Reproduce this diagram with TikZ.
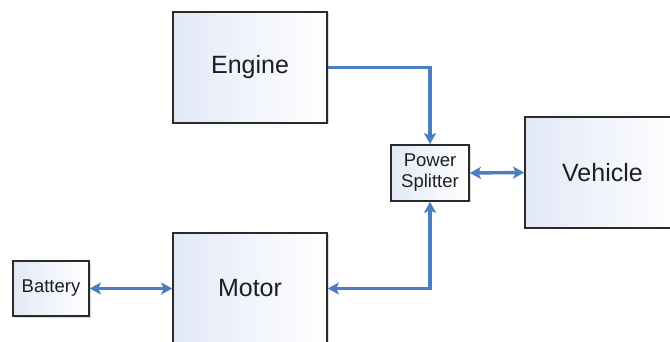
\documentclass[tikz,border=0pt]{standalone}
\usepackage{fontspec}
\setmainfont{Liberation Sans}
\usetikzlibrary{arrows.meta,shadows}
\definecolor{arrowblue}{HTML}{4A7EBF}
\definecolor{boxline}{HTML}{2A2A2A}
\definecolor{boxfillA}{HTML}{E2E9F6}
\definecolor{textgray}{HTML}{1E1E1E}
\tikzset{
  blockbox/.style={draw=boxline, line width=1.7pt, left color=boxfillA, right color=white,
    drop shadow={opacity=0.3, shadow xshift=1.5pt, shadow yshift=-1.5pt},
    inner sep=0pt, text=textgray, align=center},
  bigbox/.style={blockbox, minimum width=154pt, minimum height=111pt, font=\fontsize{25}{28}\selectfont},
  smallbox/.style={blockbox, font=\fontsize{18.5}{21}\selectfont},
  link/.style={draw=arrowblue, line width=3.4pt},
  tip/.style={-{Stealth[length=11pt,width=12pt,inset=2.5pt]}},
  twotip/.style={{Stealth[length=11pt,width=12pt,inset=2.5pt]}-{Stealth[length=11pt,width=12pt,inset=2.5pt]}},
}
\begin{document}
\begin{tikzpicture}[x=1pt,y=-1pt]
\useasboundingbox (0,0) rectangle (670,342);
\clip (0,0) rectangle (670,342);
\fill[white] (0,0) rectangle (670,342);
\node[bigbox] (engine) at (250,67.5) {Engine};
\node[bigbox] (motor) at (250,288.5) {Motor};
\node[bigbox, minimum width=155pt] (vehicle) at (602.5,172.5) {Vehicle};
\node[smallbox, minimum width=78pt, minimum height=56pt] (split) at (430,173) {Power\\Splitter};
\node[smallbox, minimum width=76pt, minimum height=55pt] (battery) at (51,288.5) {Battery};
\draw[link, tip] (engine.east) -| (split.north);
\draw[link, twotip] (motor.east) -| (split.south);
\draw[link, twotip] (split.east) -- (vehicle.west);
\draw[link, twotip] (battery.east) -- (motor.west);
\end{tikzpicture}
\end{document}
